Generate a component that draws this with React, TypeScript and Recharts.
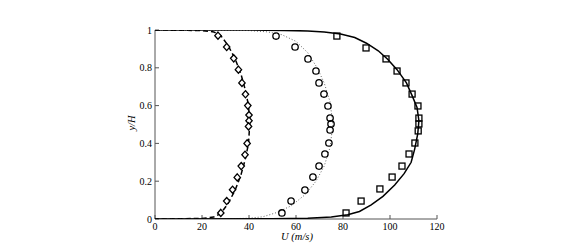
import { ScatterChart, Scatter, XAxis, YAxis } from 'recharts'

// velocity profiles U (m/s) vs y/H
const diamondU = [26.8, 30.5, 33.5, 35.5, 37, 38.5, 39.5, 40, 40, 39.8, 39.2, 38.3, 36.7, 35, 33, 30.5, 28]
const diamondY = [0.97, 0.91, 0.85, 0.79, 0.72, 0.66, 0.6, 0.55, 0.52, 0.49, 0.4, 0.34, 0.28, 0.22, 0.155, 0.095, 0.032]

const circleU = [51.5, 59.6, 65.1, 68.5, 69.8, 71.9, 73.6, 74.5, 74.9, 74.5, 74, 72.3, 69.8, 67.2, 63.8, 57.9, 54]
const circleY = [0.968, 0.91, 0.847, 0.783, 0.72, 0.661, 0.598, 0.534, 0.503, 0.471, 0.402, 0.344, 0.28, 0.222, 0.153, 0.095, 0.032]

const squareU = [77.4, 89.8, 98.3, 103, 106.8, 109.4, 111.9, 112.3, 112.3, 112, 110.6, 108.1, 105.1, 100.9, 95.7, 87.7, 81.3]
const squareY = [0.968, 0.905, 0.847, 0.783, 0.72, 0.661, 0.598, 0.534, 0.503, 0.466, 0.402, 0.344, 0.28, 0.222, 0.159, 0.095, 0.032]

const dashedU = [0, 10, 20, 25, 28, 31, 34, 36.5, 38.5, 39.8, 40.3, 39.8, 38.5, 36.5, 34, 31, 28, 25, 20, 10, 0]
const dashedY = [1, 0.999, 0.997, 0.99, 0.97, 0.92, 0.85, 0.77, 0.68, 0.6, 0.5, 0.4, 0.32, 0.23, 0.15, 0.08, 0.03, 0.01, 0.003, 0.001, 0]

const dottedU = [0, 30, 40, 48, 54, 60, 65, 69, 72, 74.5, 75.7, 74.5, 72, 68.5, 64, 58, 52, 46, 40, 30, 0]
const dottedY = [1, 0.999, 0.997, 0.99, 0.975, 0.94, 0.88, 0.8, 0.72, 0.62, 0.5, 0.38, 0.28, 0.2, 0.13, 0.07, 0.035, 0.012, 0.004, 0.001, 0]

const solidU = [0, 40, 55, 65, 72, 79, 85, 90, 95, 99, 103, 107, 109.5, 111.5, 112.3, 111.8, 110.5, 109, 106, 102, 97, 92, 87, 82, 75, 65, 50, 0]
const solidY = [1, 0.9995, 0.998, 0.995, 0.99, 0.979, 0.96, 0.93, 0.89, 0.845, 0.79, 0.72, 0.65, 0.59, 0.52, 0.45, 0.37, 0.3, 0.24, 0.18, 0.12, 0.075, 0.04, 0.022, 0.01, 0.004, 0.001, 0]

const xTicks = [0, 20, 40, 60, 80, 100, 120]
const yTicks = [0, 0.2, 0.4, 0.6, 0.8, 1]

const pts = (u: number[], y: number[]) => u.map((v, i) => ({ u: v, y: y[i] }))

const font = '"Liberation Serif", "Times New Roman", serif'
const tickStyle = { fontSize: 10, fill: '#000', fontFamily: font }

const Diamond = (p: any) => (
  <path
    d={`M${p.cx},${p.cy - 3.6}L${p.cx + 3.2},${p.cy}L${p.cx},${p.cy + 3.6}L${p.cx - 3.2},${p.cy}Z`}
    fill="#fff"
    stroke="#000"
    strokeWidth={1.3}
  />
)
const Circle = (p: any) => <circle cx={p.cx} cy={p.cy} r={3.2} fill="none" stroke="#000" strokeWidth={1.3} />
const Square = (p: any) => (
  <rect x={p.cx - 3} y={p.cy - 3} width={6} height={6} fill="none" stroke="#000" strokeWidth={1.3} />
)
const NoDot = () => <g />

export default function App() {
  return (
    <div style={{ position: 'absolute', left: 0, top: 0, background: '#fff', fontFamily: font }}>
      <ScatterChart
        width={572}
        height={244}
        margin={{ top: 30, right: 135, bottom: 0, left: 0 }}
        style={{ fontFamily: font }}
      >
        <XAxis
          xAxisId="b"
          type="number"
          dataKey="u"
          domain={[0, 120]}
          ticks={xTicks}
          height={25}
          tickSize={-4}
          tickMargin={8}
          tick={tickStyle}
          stroke="#555"
          allowDataOverflow
          label={{
            content: () => (
              <text x={297} y={240} textAnchor="middle" fontFamily={font} fontSize={10.5} fontStyle="italic" fill="#000">
                U (m/s)
              </text>
            ),
          }}
        />
        <XAxis
          xAxisId="t"
          orientation="top"
          type="number"
          dataKey="u"
          domain={[0, 120]}
          ticks={xTicks}
          height={0}
          tickSize={-4}
          tick={false}
          stroke="#555"
          allowDataOverflow
        />
        <YAxis
          yAxisId="l"
          type="number"
          dataKey="y"
          domain={[0, 1]}
          ticks={yTicks}
          width={155}
          tickSize={-4}
          tickMargin={7}
          tick={tickStyle}
          stroke="#555"
          allowDataOverflow
          label={{
            content: () => (
              <text
                x={135}
                y={123}
                transform="rotate(-90 135 123)"
                textAnchor="middle"
                fontFamily={font}
                fontSize={10.5}
                fontStyle="italic"
                fill="#000"
              >
                y/H
              </text>
            ),
          }}
        />
        <YAxis
          yAxisId="r"
          orientation="right"
          type="number"
          dataKey="y"
          domain={[0, 1]}
          ticks={yTicks}
          width={0}
          tickSize={-4}
          tick={false}
          stroke="#555"
          allowDataOverflow
        />
        <Scatter
          xAxisId="b"
          yAxisId="l"
          data={pts(dashedU, dashedY)}
          line={{ stroke: '#000', strokeWidth: 1.5, strokeDasharray: '5 3' }}
          shape={NoDot}
          isAnimationActive={false}
        />
        <Scatter
          xAxisId="b"
          yAxisId="l"
          data={pts(dottedU, dottedY)}
          line={{ stroke: '#666', strokeWidth: 1, strokeDasharray: '1 2' }}
          shape={NoDot}
          isAnimationActive={false}
        />
        <Scatter
          xAxisId="b"
          yAxisId="l"
          data={pts(solidU, solidY)}
          line={{ stroke: '#000', strokeWidth: 1.5 }}
          shape={NoDot}
          isAnimationActive={false}
        />
        <Scatter xAxisId="b" yAxisId="l" data={pts(diamondU, diamondY)} shape={Diamond} isAnimationActive={false} />
        <Scatter xAxisId="b" yAxisId="l" data={pts(circleU, circleY)} shape={Circle} isAnimationActive={false} />
        <Scatter xAxisId="b" yAxisId="l" data={pts(squareU, squareY)} shape={Square} isAnimationActive={false} />
      </ScatterChart>
    </div>
  )
}
